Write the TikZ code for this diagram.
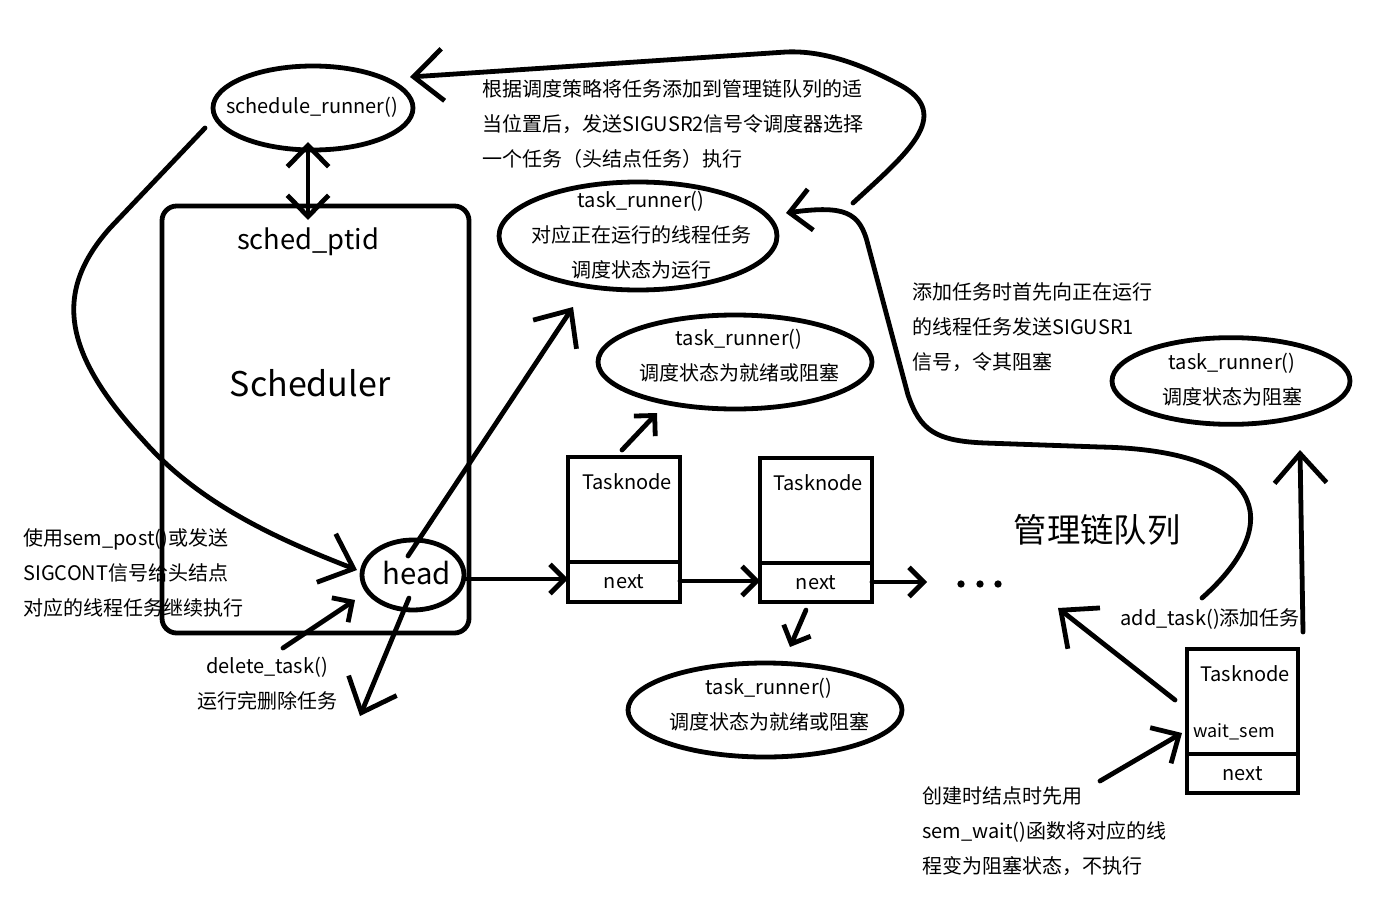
\documentclass[tikz,border=0pt]{standalone}
\usepackage{fontspec}
\setmainfont{Noto Sans CJK SC}
\usetikzlibrary{arrows.meta,shapes.geometric}
\newcommand{\fA}{\fontsize{15pt}{26.25pt}\selectfont}
\tikzset{
  sm/.tip={Straight Barb[length=11pt,width=22pt]},
  md/.tip={Straight Barb[length=16pt,width=31pt]},
  lg/.tip={Straight Barb[length=22pt,width=39pt]},
}
\begin{document}
\begin{tikzpicture}[x=0.75pt,y=-0.75pt,line width=3.6pt,line cap=round,line join=round,
  ell/.style={draw,ellipse,inner sep=0pt},
  boxn/.style={draw,rectangle,inner sep=0pt,line cap=butt,line join=miter},
  txt/.style={inner sep=0pt,font=\fA},
  dotn/.style={circle,fill=black,inner sep=0pt,minimum size=5.5pt}]
\fill[white] (0,0) rectangle (1394,920);
\useasboundingbox (0,0) rectangle (1394,920);

% ---------- scheduler side ----------
\node[ell,minimum width=150pt,minimum height=63pt] (sr) at (313,108) {};
\node[txt] (srt) at (312,107) {schedule\_runner()};
\node[draw,rounded corners=11pt,minimum width=230.25pt,minimum height=320.25pt,inner sep=0pt] (sched) at (315.5,419.5) {};
\node[inner sep=0pt,font=\fontsize{20.5pt}{20.5pt}\selectfont] (sp) at (308,242) {sched\_ptid};
\node[inner sep=0pt,font=\fontsize{25.5pt}{25.5pt}\selectfont] (sl) at (310,383) {Scheduler};
\node[ell,minimum width=76.5pt,minimum height=52.5pt] (head) at (413,575) {};
\node[inner sep=0pt,font=\fontsize{22pt}{22pt}\selectfont] (headt) at (417,573) {head};

\coordinate (dA) at (308,142);
\coordinate (dB) at (308,220);
\draw[{md}-{md}] (dA) -- (dB);

\coordinate (c5a) at (205,128);
\coordinate (c5e) at (357,570);
\draw[-{lg}] (c5a) -- (110,228) .. controls (55,290) and (60,350) .. (143,440)
   .. controls (200,505) and (280,540) .. (c5e);

\node[txt,align=left,anchor=west] (t1) at (21,573) {使用sem\_post()或发送\\SIGCONT信号给头结点\\对应的线程任务继续执行};
\node[txt,align=center] (t2) at (267,683.5) {delete\_task()\\运行完删除任务};

\coordinate (a8s) at (283,648);
\coordinate (a8e) at (355,600);
\draw[-{sm}] (a8s) -- (a8e);

\coordinate (a9s) at (409,598);
\coordinate (a9e) at (360,716);
\draw[-{lg}] (a9s) -- (a9e);

\coordinate (a10s) at (408,556);
\coordinate (a10e) at (573,307);
\draw[-{lg}] (a10s) -- (a10e);

% ---------- task nodes ----------
\node[boxn,minimum width=84pt,minimum height=78.75pt] (tn1) at (624,509.5) {};
\node[boxn,minimum width=84pt,minimum height=30pt,font=\fA] (tn1n) at (624,582) {next};
\node[txt] (tn1t) at (627,482) {Tasknode};

\node[boxn,minimum width=84pt,minimum height=78.75pt] (tn2) at (816,510.5) {};
\node[boxn,minimum width=84pt,minimum height=29.25pt,font=\fA] (tn2n) at (816,582.5) {next};
\node[txt] (tn2t) at (818,483) {Tasknode};

\coordinate (a11s) at (466,579);
\coordinate (a11e) at (568,579);
\draw[-{sm}] (a11s) -- (a11e);
\coordinate (a13s) at (680,581);
\coordinate (a13e) at (760,581);
\draw[-{sm}] (a13s) -- (a13e);
\coordinate (a14s) at (872,582);
\coordinate (a14e) at (927,582);
\draw[-{sm}] (a14s) -- (a14e);

\node[dotn] (dt1) at (961,584) {};
\node[dotn] (dt2) at (980,584) {};
\node[dotn] (dt3) at (998,584) {};

\node[ell,minimum width=205.5pt,minimum height=70.5pt] (tr2) at (735,362) {};
\node[txt,align=center] (tr2t) at (739,356) {task\_runner()\\调度状态为就绪或阻塞};
\coordinate (a16s) at (622,450);
\coordinate (a16e) at (657,413);
\draw[-{sm}] (a16s) -- (a16e);

\node[ell,minimum width=205.5pt,minimum height=70.5pt] (tr3) at (765,710) {};
\node[txt,align=center] (tr3t) at (769,705) {task\_runner()\\调度状态为就绪或阻塞};
\coordinate (a18s) at (806,610);
\coordinate (a18e) at (790,647);
\draw[-{sm}] (a18s) -- (a18e);

% ---------- running task ----------
\node[ell,minimum width=208.5pt,minimum height=81pt] (tr1) at (638,236) {};
\node[txt,align=center] (tr1t) at (641,235) {task\_runner()\\对应正在运行的线程任务\\调度状态为运行};

\node[txt,align=left,anchor=west] (t3) at (480,124) {根据调度策略将任务添加到管理链队列的适\\当位置后，发送SIGUSR2信号令调度器选择\\一个任务（头结点任务）执行};

\coordinate (c22s) at (853,203);
\coordinate (c22e) at (410,77);
\draw[-{lg}] (c22s) .. controls (905,155) and (955,115) .. (900,85)
   .. controls (872,70) and (830,50) .. (786,52) -- (c22e);

\node[txt,align=left,anchor=west] (t4) at (910,327) {添加任务时首先向正在运行\\的线程任务发送SIGUSR1\\信号，令其阻塞};

\coordinate (c24s) at (1202,598);
\coordinate (c24e) at (786,213);
\draw[-{md}] (c24s) .. controls (1290,520) and (1260,450) .. (1100,447) -- (985,443)
   .. controls (935,441) and (920,430) .. (908,395) -- (868,245)
   .. controls (860,212) and (845,205) .. (c24e);

% ---------- new task ----------
\node[ell,minimum width=178.5pt,minimum height=65pt] (tr4) at (1231,381) {};
\node[txt,align=center] (tr4t) at (1232,380) {task\_runner()\\调度状态为阻塞};

\coordinate (a26s) at (1303,632);
\coordinate (a26e) at (1300,450);
\draw[-{lg}] (a26s) -- (a26e);

\node[inner sep=0pt,font=\fontsize{25pt}{25pt}\selectfont] (q) at (1097,530) {管理链队列};
\node[txt,anchor=west] (t5) at (1118,619) {add\_task()添加任务};

\node[boxn,minimum width=83.25pt,minimum height=78.75pt] (tn3) at (1242.5,701.5) {};
\node[boxn,minimum width=83.25pt,minimum height=29.25pt,font=\fA] (tn3n) at (1242.5,773.5) {next};
\node[txt] (tn3t) at (1245,674) {Tasknode};
\node[inner sep=0pt,anchor=west,font=\fontsize{13.5pt}{13.5pt}\selectfont] (ws) at (1191,732) {wait\_sem};

\coordinate (a29s) at (1175,700);
\coordinate (a29e) at (1058,608);
\draw[-{lg}] (a29s) -- (a29e);

\coordinate (a31s) at (1100,781);
\coordinate (a31e) at (1182,733);
\draw[-{md}] (a31s) -- (a31e);

\node[txt,align=left,anchor=west] (t6) at (920,831) {创建时结点时先用\\sem\_wait()函数将对应的线\\程变为阻塞状态，不执行};
\end{tikzpicture}
\end{document}
